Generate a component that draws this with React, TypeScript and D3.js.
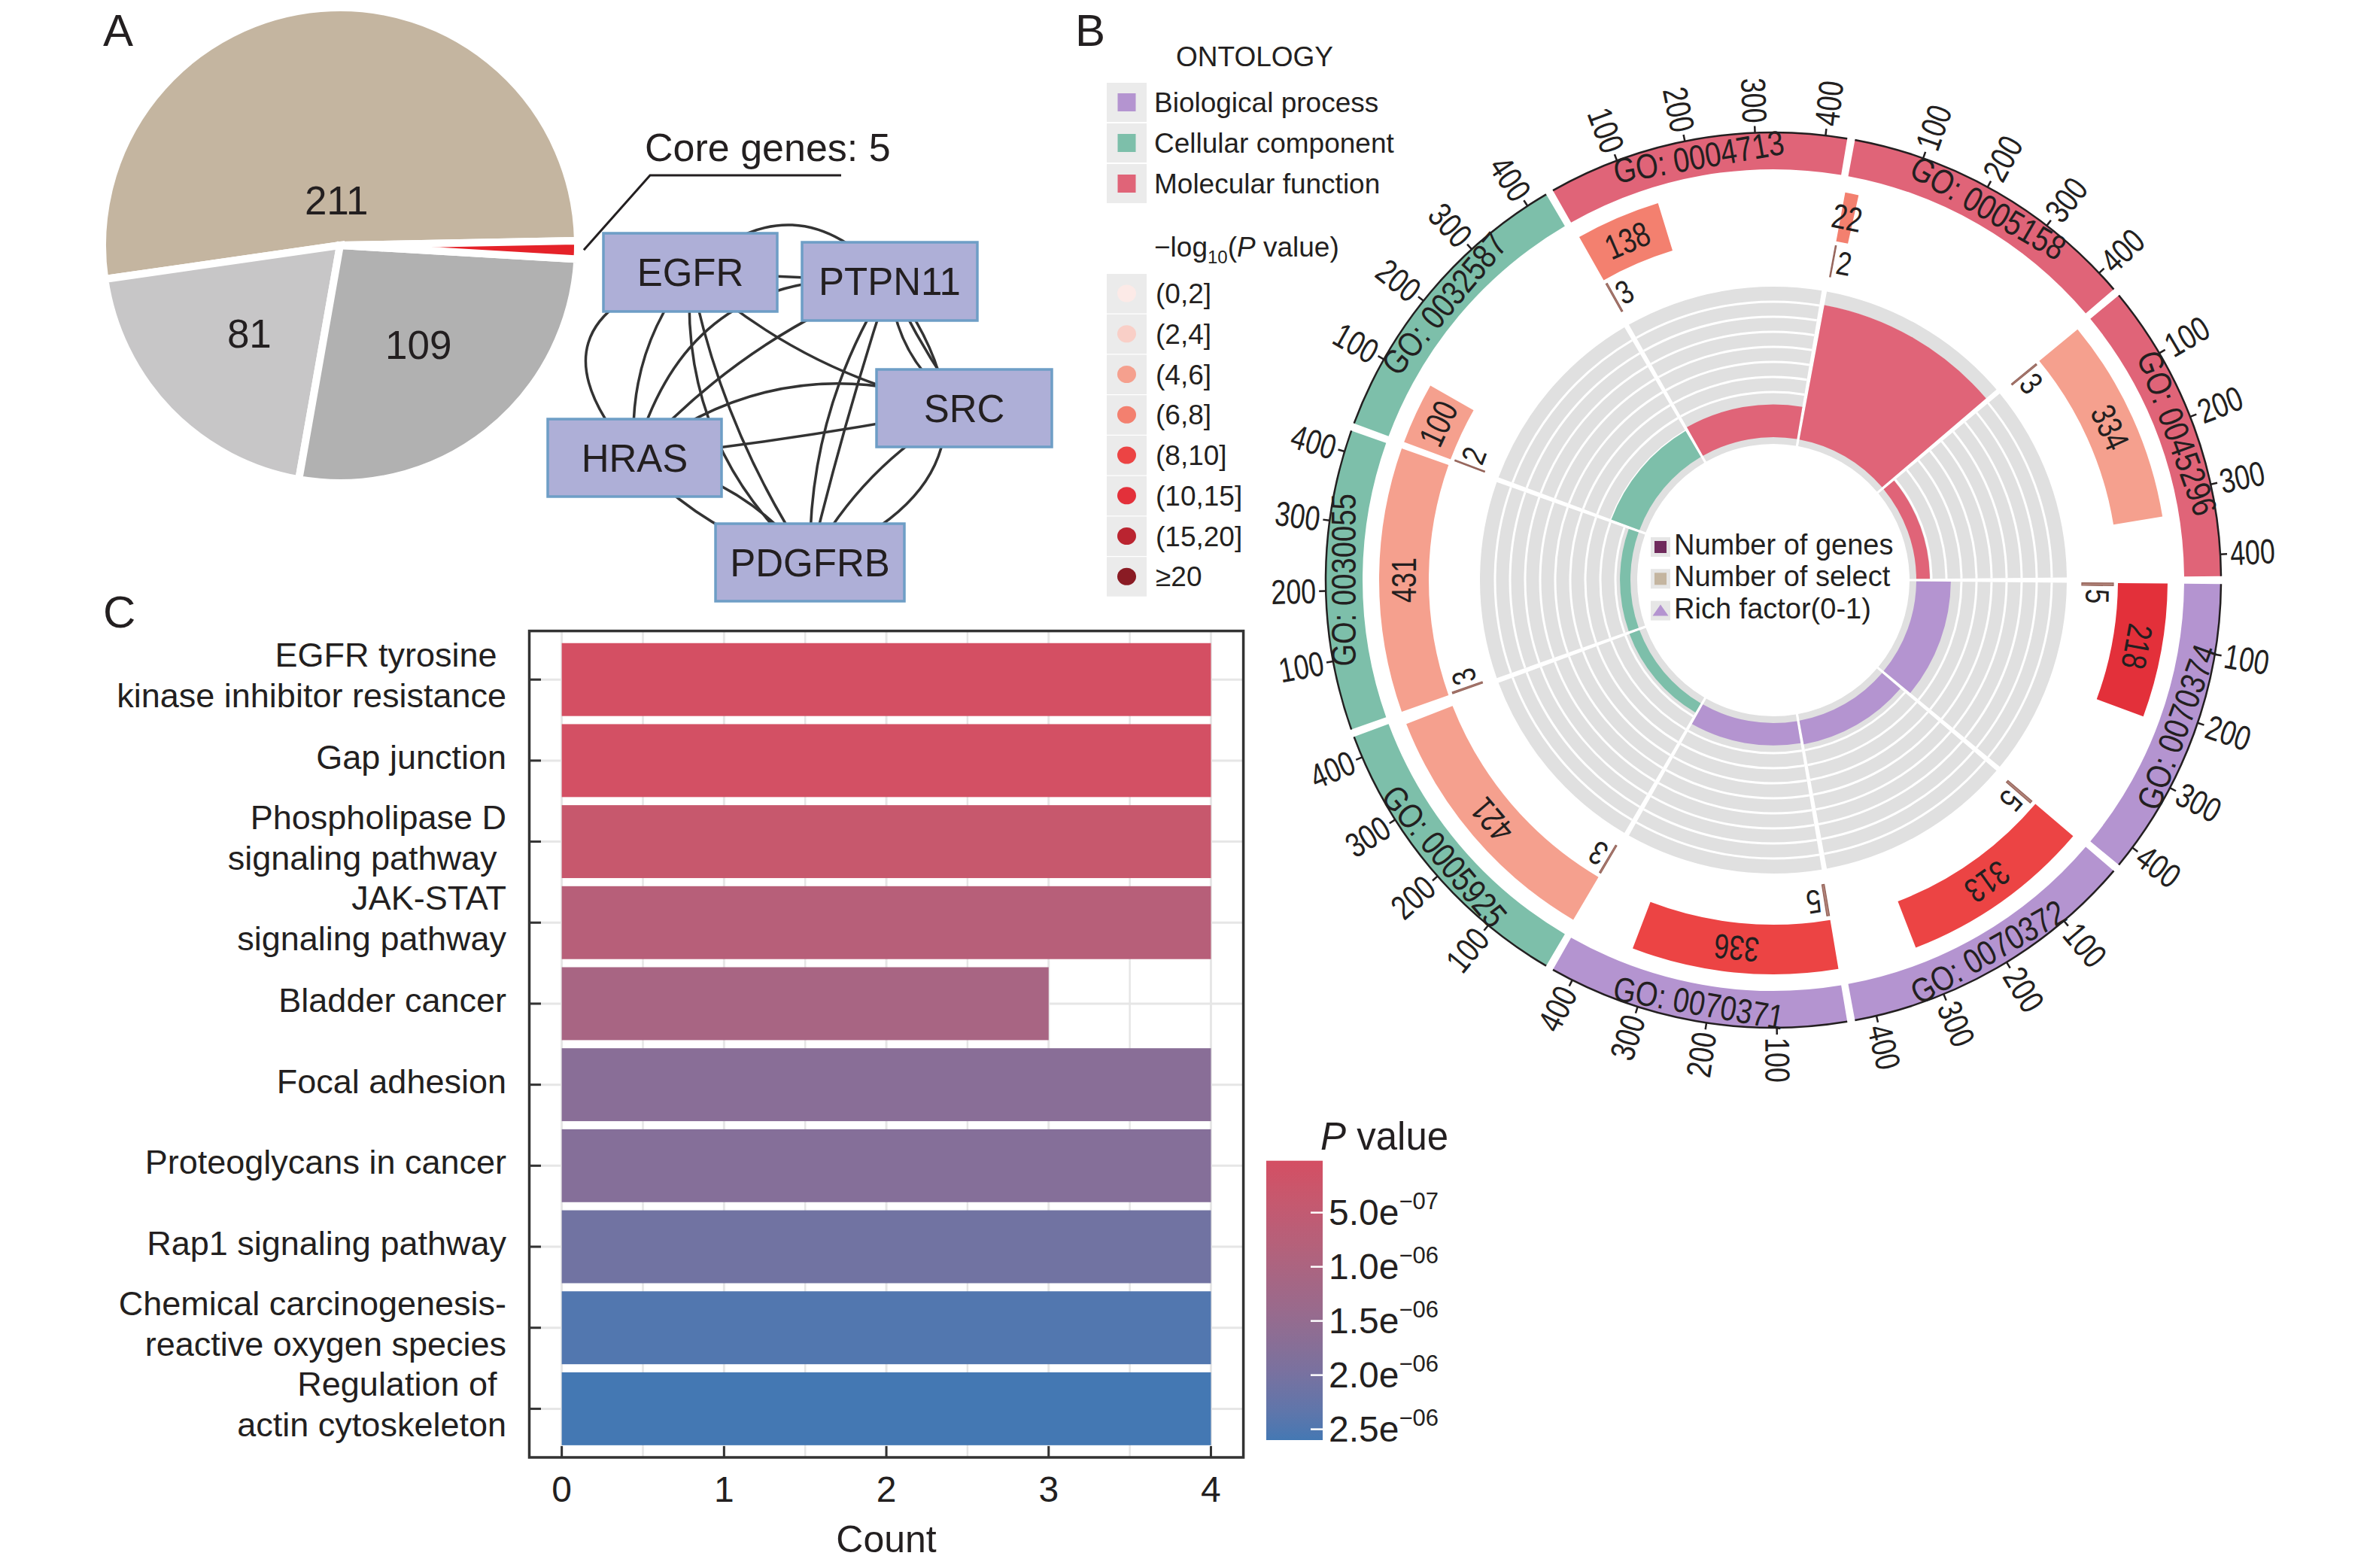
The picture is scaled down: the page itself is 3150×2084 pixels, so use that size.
import React from 'react';
import * as d3 from 'd3';

const FONT = '"Liberation Sans", Arial, Helvetica, sans-serif';
const INK = '#231F20';

// ---------------- Panel A data ----------------
const pieCategories = ['Set 1', 'Set 2', 'Set 3', 'Core genes'];
const pieValues = [211, 81, 109, 5];
const pieColors = ['#C4B5A0', '#C7C6C7', '#B1B1B1', '#E52229'];
const coreGeneCount = 5;
const coreGenes = ['EGFR', 'PTPN11', 'SRC', 'HRAS', 'PDGFRB'];
// [source, target, curvature]
const ppiEdges: [string, string, number][] = [
  ['EGFR', 'PTPN11', 0],
  ['EGFR', 'PTPN11', -0.52],
  ['EGFR', 'HRAS', 0.8],
  ['EGFR', 'HRAS', 0.2],
  ['EGFR', 'SRC', 0.14],
  ['EGFR', 'PDGFRB', 0.25],
  ['EGFR', 'PDGFRB', 0.1],
  ['PTPN11', 'HRAS', 0.12],
  ['HRAS', 'PTPN11', -0.42],
  ['PTPN11', 'SRC', 0.25],
  ['PTPN11', 'SRC', 0.05],
  ['PTPN11', 'PDGFRB', 0.15],
  ['PTPN11', 'PDGFRB', 0.02],
  ['PTPN11', 'PDGFRB', -0.65],
  ['HRAS', 'SRC', 0.02],
  ['HRAS', 'SRC', -0.28],
  ['HRAS', 'PDGFRB', 0.15],
  ['HRAS', 'PDGFRB', -0.2],
  ['SRC', 'PDGFRB', 0.15],
];

// ---------------- Panel B data ----------------
const goTerms = ['GO: 0004713', 'GO: 0005158', 'GO: 0045296', 'GO: 0070374', 'GO: 0070372', 'GO: 0070371', 'GO: 0005925', 'GO: 0030055', 'GO: 0032587'];
const goOntology = ['MF', 'MF', 'MF', 'BP', 'BP', 'BP', 'CC', 'CC', 'CC'];
const goGeneNumbers = [138, 22, 334, 218, 313, 336, 421, 431, 100];
const goSelectNumbers = [3, 2, 3, 5, 5, 5, 3, 3, 2];
const goPBins = ['(6,8]', '(6,8]', '(4,6]', '(10,15]', '(8,10]', '(8,10]', '(4,6]', '(4,6]', '(4,6]'];
const goAxisTicks = [100, 200, 300, 400];
const richFactorGrid = [0.01, 0.02, 0.03, 0.04, 0.05, 0.06, 0.07, 0.08, 0.09];
const ontologyKeys = ['BP', 'CC', 'MF'];
const ontologyLabels = ['Biological process', 'Cellular component', 'Molecular function'];
const ontologyColors = ['#B494D0', '#7DBFAA', '#E06478'];
const pBinLabels = ['(0,2]', '(2,4]', '(4,6]', '(6,8]', '(8,10]', '(10,15]', '(15,20]', '≥20'];
const pBinColors = ['#FCEAE7', '#F9CFC7', '#F5A08E', '#F3806F', '#EC4444', '#E3303A', '#BA2430', '#8A1B24'];
const centerLegendLabels = ['Number of genes', 'Number of select', 'Rich factor(0-1)'];
const centerLegendColors = ['#6F2A5C', '#C4B5A0', '#B494D0'];

// ---------------- Panel C data ----------------
const keggPathways: string[][] = [
  ['EGFR tyrosine ', 'kinase inhibitor resistance'],
  ['Gap junction'],
  ['Phospholipase D', 'signaling pathway '],
  ['JAK-STAT', 'signaling pathway'],
  ['Bladder cancer'],
  ['Focal adhesion'],
  ['Proteoglycans in cancer'],
  ['Rap1 signaling pathway'],
  ['Chemical carcinogenesis-', 'reactive oxygen species'],
  ['Regulation of ', 'actin cytoskeleton'],
];
const keggCounts = [4, 4, 4, 4, 3, 4, 4, 4, 4, 4];
const keggPValues = [2.1e-8, 4.6e-8, 3.6e-7, 7.4e-7, 1.08e-6, 1.7e-6, 1.77e-6, 2.08e-6, 2.47e-6, 2.6e-6];
const countTicks = [0, 1, 2, 3, 4];
const pValueTicks = [5e-7, 1e-6, 1.5e-6, 2e-6, 2.5e-6];

const rad = (deg: number) => (deg * Math.PI) / 180;
const polar = (r: number, deg: number): [number, number] => [r * Math.sin(rad(deg)), -r * Math.cos(rad(deg))];
const arcGen: any = d3.arc();
const arcPath = (r0: number, r1: number, a0: number, a1: number) =>
  arcGen({ innerRadius: r0, outerRadius: r1, startAngle: rad(a0), endAngle: rad(a1) });
const arcLine = (r: number, a0: number, a1: number) => {
  const p = d3.path();
  const s = rad(a0) - Math.PI / 2;
  const e = rad(a1) - Math.PI / 2;
  p.moveTo(r * Math.cos(s), r * Math.sin(s));
  p.arc(0, 0, r, s, e);
  return p.toString();
};

function PanelA() {
  const cx = 452, cy = 326, R = 316;
  const start = rad(88.9);
  const arcs = d3.pie<number>().sort(null).value((d) => d).startAngle(start).endAngle(start - 2 * Math.PI)(pieValues);
  const arc: any = d3.arc().innerRadius(0).outerRadius(R);
  const core = arcs[3];
  const coreMid = (core.startAngle + core.endAngle) / 2;
  const lead0: [number, number] = [cx + (R + 8) * Math.sin(coreMid), cy - (R + 8) * Math.cos(coreMid)];

  const nodeLayout: Record<string, { x: number; y: number; w: number; h: number }> = {
    EGFR: { x: 802, y: 310, w: 231, h: 104 },
    PTPN11: { x: 1066, y: 322, w: 233, h: 104 },
    SRC: { x: 1165, y: 491, w: 233, h: 103 },
    HRAS: { x: 728, y: 557, w: 231, h: 103 },
    PDGFRB: { x: 951, y: 696, w: 251, h: 103 },
  };
  const center = (n: string): [number, number] => {
    const b = nodeLayout[n];
    return [b.x + b.w / 2, b.y + b.h / 2];
  };
  const edgePath = ([s, t, c]: [string, string, number]) => {
    const [x1, y1] = center(s);
    const [x2, y2] = center(t);
    const dx = x2 - x1, dy = y2 - y1;
    const len = Math.hypot(dx, dy);
    const nx = -dy / len, ny = dx / len;
    const qx = (x1 + x2) / 2 + nx * c * len;
    const qy = (y1 + y2) / 2 + ny * c * len;
    const p = d3.path();
    p.moveTo(x1, y1);
    p.quadraticCurveTo(qx, qy, x2, y2);
    return p.toString();
  };

  return (
    <g>
      <text x={137} y={61} fontSize={60} fill={INK}>A</text>
      <g transform={`translate(${cx},${cy})`}>
        {arcs.map((a, i) => (
          <path key={i} d={arc(a)} fill={pieColors[i]} stroke="#fff" strokeWidth={10} strokeLinejoin="miter" />
        ))}
        {arcs.slice(0, 3).map((a, i) => {
          const mid = (a.startAngle + a.endAngle) / 2;
          const span = Math.abs(a.endAngle - a.startAngle);
          const rl = span > Math.PI ? 60 : 168;
          return (
            <text key={i} x={rl * Math.sin(mid)} y={-rl * Math.cos(mid)} dy="0.36em" textAnchor="middle" fontSize={53} fill={INK}>
              {pieValues[i]}
            </text>
          );
        })}
      </g>
      <path d={`M${lead0[0]},${lead0[1]} L864,233 L1118,233`} fill="none" stroke={INK} strokeWidth={3} />
      <text x={857} y={214} fontSize={52} fill={INK}>{`Core genes: ${coreGeneCount}`}</text>
      <g>
        {ppiEdges.map((e, i) => (
          <path key={i} d={edgePath(e)} fill="none" stroke="#333" strokeWidth={3.5} />
        ))}
        {coreGenes.map((n) => {
          const b = nodeLayout[n];
          return (
            <g key={n}>
              <rect x={b.x} y={b.y} width={b.w} height={b.h} fill="#AEAFD7" stroke="#6E9EC6" strokeWidth={3.5} />
              <text x={b.x + b.w / 2} y={b.y + b.h / 2 + 18} textAnchor="middle" fontSize={51} fill={INK}>{n}</text>
            </g>
          );
        })}
      </g>
    </g>
  );
}

function PanelB() {
  const cx = 2357, cy = 771;
  const sectorStart = (i: number) => -30 + 40 * i;
  const valAng = d3.scaleLinear().domain([0, 431]).range([0.5, 39.5]);
  const ang = (i: number, v: number) => sectorStart(i) + valAng(v);
  const rf = d3.scaleLinear().domain([0, 0.1]).range([190, 390]);
  const ontColor = (o: string) => ontologyColors[ontologyKeys.indexOf(o)];
  const binColor = (b: string) => pBinColors[pBinLabels.indexOf(b)];
  const norm = (a: number) => ((a % 360) + 360) % 360;
  const cond = 0.78;

  return (
    <g>
      <text x={1429} y={61} fontSize={60} fill={INK}>B</text>
      {/* Ontology legend */}
      <text x={1563} y={88} fontSize={37} fill={INK}>ONTOLOGY</text>
      {ontologyLabels.map((l, i) => {
        const y = 110 + 54 * i;
        return (
          <g key={l}>
            <rect x={1471} y={y} width={53} height={52} fill="#EBEBEB" />
            <rect x={1485.5} y={y + 14} width={24} height={24} fill={ontologyColors[i]} />
            <text x={1534} y={y + 39} fontSize={37} fill={INK}>{l}</text>
          </g>
        );
      })}
      <text x={1534} y={341} fontSize={37} fill={INK}>
        −log<tspan fontSize={24} dy={9}>10</tspan>
        <tspan dy={-9}>(</tspan>
        <tspan fontStyle="italic">P</tspan> value)
      </text>
      {pBinLabels.map((l, i) => {
        const y = 364 + 53.75 * i;
        return (
          <g key={l}>
            <rect x={1471} y={y} width={53} height={52.5} fill="#EBEBEB" />
            <ellipse cx={1497.5} cy={y + 26} rx={12.5} ry={11.5} fill={pBinColors[i]} />
            <text x={1536} y={y + 39} fontSize={37} fill={INK}>{l}</text>
          </g>
        );
      })}

      <g transform={`translate(${cx},${cy})`}>
        {/* rich factor track background */}
        {goTerms.map((t, i) => (
          <path key={'bg' + i} d={arcPath(181, 390, sectorStart(i) + 0.5, sectorStart(i) + 39.5)} fill="#E0E0E0" />
        ))}
        {goTerms.map((t, i) =>
          richFactorGrid.map((g) => (
            <path key={'gl' + i + g} d={arcLine(rf(g), sectorStart(i) + 0.5, sectorStart(i) + 39.5)} fill="none" stroke="#fff" strokeWidth={3} />
          ))
        )}
        {goTerms.map((t, i) => (
          <path key={'rf' + i} d={arcPath(190, rf(goSelectNumbers[i] / goGeneNumbers[i]), sectorStart(i) + 0.5, sectorStart(i) + 39.5)} fill={ontColor(goOntology[i])} />
        ))}
        {/* select track */}
        {goTerms.map((t, i) => {
          const a1 = ang(i, goSelectNumbers[i]);
          const [lx, ly] = polar(431, a1 + 0.6);
          return (
            <g key={'sel' + i}>
              <path d={arcPath(410, 452, ang(i, 0), a1)} fill="#B08278" stroke="#946359" strokeWidth={1.2} />
              <text transform={`translate(${lx},${ly}) rotate(${a1}) scale(0.8,1)`} textAnchor="start" dominantBaseline="central" fontSize={44} fill={INK}>
                {goSelectNumbers[i]}
              </text>
            </g>
          );
        })}
        {/* gene number track */}
        {goTerms.map((t, i) => {
          const a1 = ang(i, goGeneNumbers[i]);
          const mid = (ang(i, 0) + a1) / 2;
          const [lx, ly] = polar(491, mid);
          return (
            <g key={'gn' + i}>
              <path d={arcPath(458, 524, ang(i, 0), a1)} fill={binColor(goPBins[i])} />
              <text transform={`translate(${lx},${ly}) rotate(${mid}) scale(${cond},1)`} textAnchor="middle" dominantBaseline="central" fontSize={46} fill={INK}>
                {goGeneNumbers[i]}
              </text>
            </g>
          );
        })}
        {/* GO term ring */}
        {goTerms.map((t, i) => {
          const mid = sectorStart(i) + 20;
          const m = norm(mid);
          const rot = m > 90 && m < 270 ? m - 180 : mid;
          const [lx, ly] = polar(571, mid);
          return (
            <g key={'go' + i}>
              <path d={arcPath(546, 595, sectorStart(i) + 0.5, sectorStart(i) + 39.5)} fill={ontColor(goOntology[i])} />
              <text transform={`translate(${lx},${ly}) rotate(${rot}) scale(0.83,1)`} textAnchor="middle" dominantBaseline="central" fontSize={46} fill={INK}>
                {t}
              </text>
              <path d={arcLine(595, sectorStart(i) + 0.5, sectorStart(i) + 39.5)} fill="none" stroke={INK} strokeWidth={2.5} />
              {goAxisTicks.map((v) => {
                const a = ang(i, v);
                const [x0, y0] = polar(595, a);
                const [x1, y1] = polar(604, a);
                const [tx, ty] = polar(608, a);
                const an = norm(a);
                const right = an < 180;
                return (
                  <g key={v}>
                    <line x1={x0} y1={y0} x2={x1} y2={y1} stroke={INK} strokeWidth={2.5} />
                    <text transform={`translate(${tx},${ty}) rotate(${right ? a - 90 : a + 90}) scale(${cond},1)`} textAnchor={right ? 'start' : 'end'} dominantBaseline="central" fontSize={46} fill={INK}>
                      {v}
                    </text>
                  </g>
                );
              })}
            </g>
          );
        })}
      </g>
      {/* center legend */}
      {centerLegendLabels.map((l, i) => {
        const y = 714 + 42.3 * i;
        return (
          <g key={l}>
            <rect x={2194} y={y} width={26} height={26} fill="#E6E6E6" />
            {i < 2 ? (
              <rect x={2199} y={y + 5} width={16} height={16} fill={centerLegendColors[i]} />
            ) : (
              <path d={`M${2207},${y + 5} L${2217.5},${y + 20} L${2196.5},${y + 20} Z`} fill={centerLegendColors[i]} />
            )}
            <text x={2225} y={y + 23} fontSize={38} fill={INK}>{l}</text>
          </g>
        );
      })}
    </g>
  );
}

function PanelC() {
  const x = d3.scaleLinear().domain([-0.2, 4.2]).range([703.5, 1652.6]);
  const y = d3.scaleBand<number>().domain(d3.range(keggPathways.length)).range([838.6, 1937]).paddingInner(0.1).paddingOuter(0.15);
  const pMin = d3.min(keggPValues) as number;
  const pMax = d3.max(keggPValues) as number;
  const color = d3.scaleLinear<string>().domain([pMin, pMax]).range(['#D44F63', '#4478B3']).interpolate(d3.interpolateLab);
  const cbY = d3.scaleLinear().domain([pMin, pMax]).range([1542.7, 1914]);
  const minorTicks = d3.range(0, 4.01, 0.5);
  const stops = d3.range(0, 1.0001, 0.05);

  return (
    <g>
      <text x={137} y={834} fontSize={60} fill={INK}>C</text>
      <defs>
        <linearGradient id="pgrad" x1="0" y1="0" x2="0" y2="1">
          {stops.map((t) => (
            <stop key={t} offset={t} stopColor={color(pMin + t * (pMax - pMin))} />
          ))}
        </linearGradient>
      </defs>
      {/* grid */}
      {minorTicks.map((t) => (
        <line key={'v' + t} x1={x(t)} x2={x(t)} y1={838.6} y2={1937} stroke="#E6E6E6" strokeWidth={t % 1 === 0 ? 3 : 2.5} />
      ))}
      {keggPathways.map((p, i) => (
        <line key={'h' + i} x1={703.5} x2={1652.6} y1={(y(i) as number) + y.bandwidth() / 2} y2={(y(i) as number) + y.bandwidth() / 2} stroke="#E6E6E6" strokeWidth={3} />
      ))}
      {/* bars */}
      {keggPathways.map((p, i) => (
        <rect key={'b' + i} x={x(0)} y={y(i)} width={x(keggCounts[i]) - x(0)} height={y.bandwidth()} fill={color(keggPValues[i])} />
      ))}
      <rect x={703.5} y={838.6} width={1652.6 - 703.5} height={1937 - 838.6} fill="none" stroke="#333" strokeWidth={3.5} />
      {/* y ticks & labels */}
      {keggPathways.map((lines, i) => {
        const c = (y(i) as number) + y.bandwidth() / 2;
        return (
          <g key={'yl' + i}>
            <line x1={703.5} x2={719} y1={c} y2={c} stroke="#333" strokeWidth={3} />
            {lines.map((l, k) => (
              <text key={k} x={673} y={lines.length === 1 ? c + 11 : c - 17 + 54 * k} textAnchor="end" fontSize={45} fill={INK} style={{ whiteSpace: 'pre' }}>
                {l}
              </text>
            ))}
          </g>
        );
      })}
      {countTicks.map((t) => (
        <g key={'xt' + t}>
          <line x1={x(t)} x2={x(t)} y1={1937} y2={1922} stroke="#333" strokeWidth={3} />
          <text x={x(t)} y={1996} textAnchor="middle" fontSize={48} fill={INK}>{t}</text>
        </g>
      ))}
      <text x={(703.5 + 1652.6) / 2} y={2063} textAnchor="middle" fontSize={50} fill={INK}>Count</text>
      {/* colour bar */}
      <text x={1755} y={1528} fontSize={51} fill={INK}>
        <tspan fontStyle="italic">P</tspan> value
      </text>
      <rect x={1683} y={1542.7} width={75} height={1914 - 1542.7} fill="url(#pgrad)" />
      {pValueTicks.map((p) => {
        const ty = cbY(p);
        const [m, e] = p.toExponential(1).split('e');
        const ex = parseInt(e, 10);
        const sup = (ex < 0 ? '−' : '') + String(Math.abs(ex)).padStart(2, '0');
        return (
          <g key={p}>
            <line x1={1742} x2={1758} y1={ty} y2={ty} stroke="#fff" strokeWidth={2.5} />
            <text x={1766} y={ty + 16} fontSize={48} fill={INK}>
              {m}e<tspan fontSize={31} dy={-21}>{sup}</tspan>
            </text>
          </g>
        );
      })}
    </g>
  );
}

export default function App() {
  return (
    <svg width={3150} height={2084} viewBox="0 0 3150 2084" style={{ position: 'absolute', left: 0, top: 0, fontFamily: FONT }}>
      <rect width={3150} height={2084} fill="#fff" />
      <PanelA />
      <PanelB />
      <PanelC />
    </svg>
  );
}
